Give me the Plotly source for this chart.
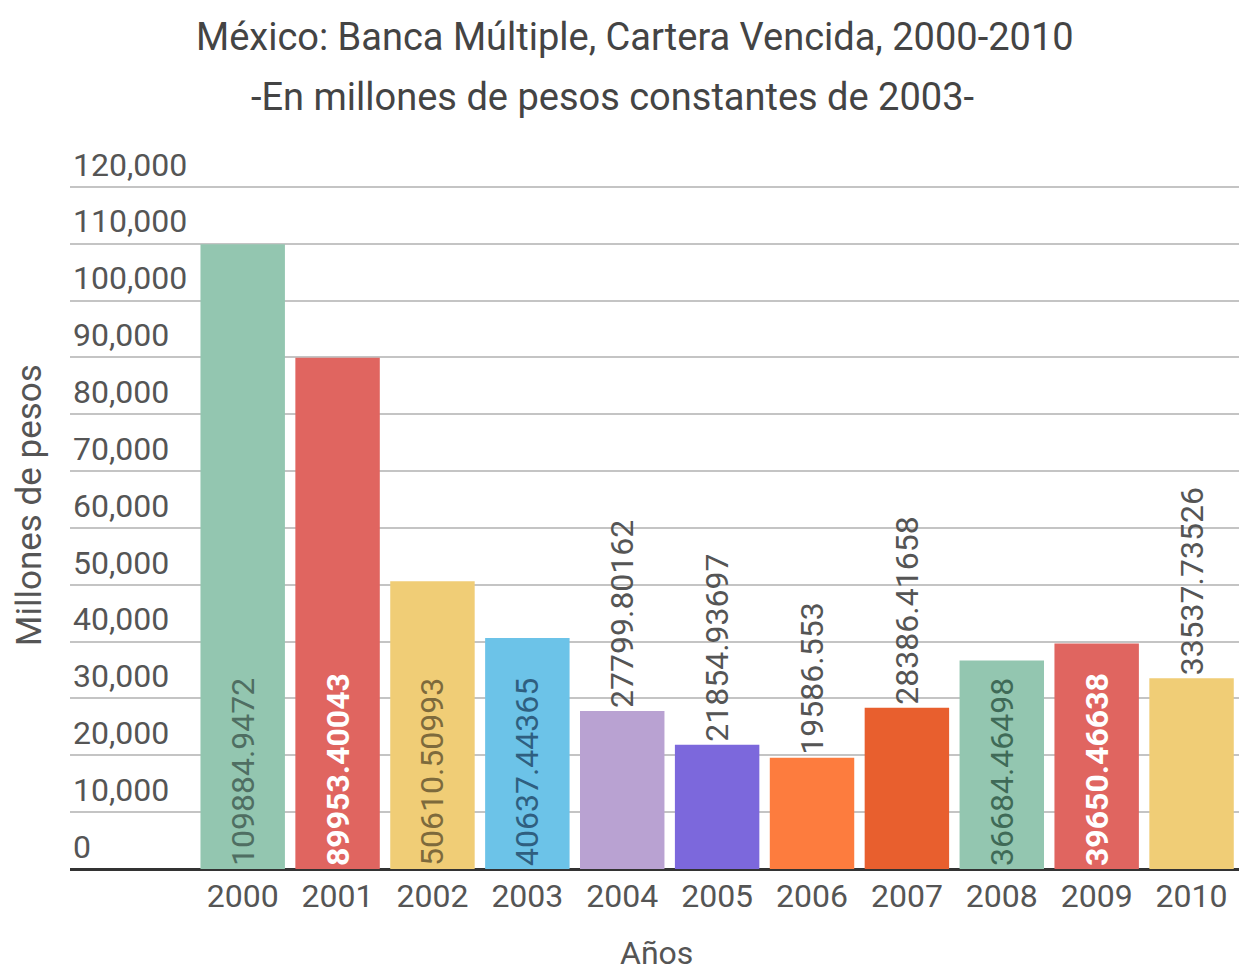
import plotly.graph_objects as go

# Cartera vencida de la banca múltiple, millones de pesos constantes de 2003
years = ["2000", "2001", "2002", "2003", "2004", "2005",
         "2006", "2007", "2008", "2009", "2010"]
values = [109884.9472, 89953.40043, 50610.50993, 40637.44365, 27799.80162,
          21854.93697, 19586.553, 28386.41658, 36684.46498, 39650.46638,
          33537.73526]
y_ticks = [0, 10000, 20000, 30000, 40000, 50000, 60000,
           70000, 80000, 90000, 100000, 110000, 120000]

bar_colors = ["#93c6b0", "#e06560", "#f0cd76", "#6cc3e8", "#b9a2d2", "#7c68dc",
              "#fd7c3e", "#e85f2e", "#93c6b0", "#e06560", "#f0cd76"]
label_colors = ["#4f6e62", "#ffffff", "#7d6a3c", "#2f5f80", "#555555", "#555555",
                "#555555", "#555555", "#3f6a57", "#ffffff", "#555555"]
label_weights = [400, 700, 400, 400, 400, 400, 400, 400, 400, 700, 400]
label_pos = ["inside", "inside", "inside", "inside", "outside", "outside",
             "outside", "outside", "inside", "inside", "outside"]

FONT = "Roboto"

# plot area: baseline at y=869 px, 120,000 gridline at y=187 px
Y_MAX = 130000
PLOT_H = 682 * Y_MAX / 120000
TOP = 869 - PLOT_H


def py(p):
    """Pixel row -> paper y coordinate."""
    return (869 - p) / PLOT_H


fig = go.Figure(
    go.Bar(
        x=list(range(len(years))),
        y=values,
        marker=dict(color=bar_colors, line=dict(width=0)),
        text=[str(v) for v in values],
        textposition=label_pos,
        textangle=-90,
        insidetextanchor="start",
        constraintext="none",
        cliponaxis=False,
        textfont=dict(family=FONT, size=32, color=label_colors,
                      weight=label_weights),
        width=0.89,
        hoverinfo="skip",
    )
)

fig.update_layout(
    width=1239,
    height=975,
    margin=dict(l=70, r=0, t=TOP, b=106),
    paper_bgcolor="white",
    plot_bgcolor="white",
    showlegend=False,
    font=dict(family=FONT, color="#555555"),
    xaxis=dict(
        range=[-1.82, 10.5],
        tickvals=list(range(len(years))),
        ticktext=years,
        showgrid=False,
        zeroline=False,
        showline=False,
        ticks="",
        tickfont=dict(size=32, color="#555555"),
        ticklabelstandoff=5,
    ),
    yaxis=dict(
        range=[0, Y_MAX],
        tickvals=y_ticks,
        ticktext=[f"{v:,}" for v in y_ticks],
        ticklabelposition="inside top",
        tickfont=dict(size=32, color="#555555"),
        showgrid=True,
        gridcolor="#c4c4c4",
        gridwidth=2,
        zeroline=True,
        zerolinecolor="#333333",
        zerolinewidth=3,
        showline=False,
        ticks="",
    ),
    annotations=[
        dict(text="México: Banca Múltiple, Cartera Vencida, 2000-2010",
             xref="paper", yref="paper", x=0.483, y=py(37),
             xanchor="center", yanchor="middle", showarrow=False,
             font=dict(family=FONT, size=38, color="#444444")),
        dict(text="-En millones de pesos constantes de 2003-",
             xref="paper", yref="paper", x=0.464, y=py(97),
             xanchor="center", yanchor="middle", showarrow=False,
             font=dict(family=FONT, size=38, color="#444444")),
        dict(text="Millones de pesos",
             xref="paper", yref="paper", x=-0.034, y=py(505),
             xanchor="center", yanchor="middle", textangle=-90, showarrow=False,
             font=dict(family=FONT, size=35, color="#555555")),
        dict(text="Años",
             xref="paper", yref="paper", x=0.502, y=py(953),
             xanchor="center", yanchor="middle", showarrow=False,
             font=dict(family=FONT, size=32, color="#555555")),
    ],
)

fig.write_html("out.html")
